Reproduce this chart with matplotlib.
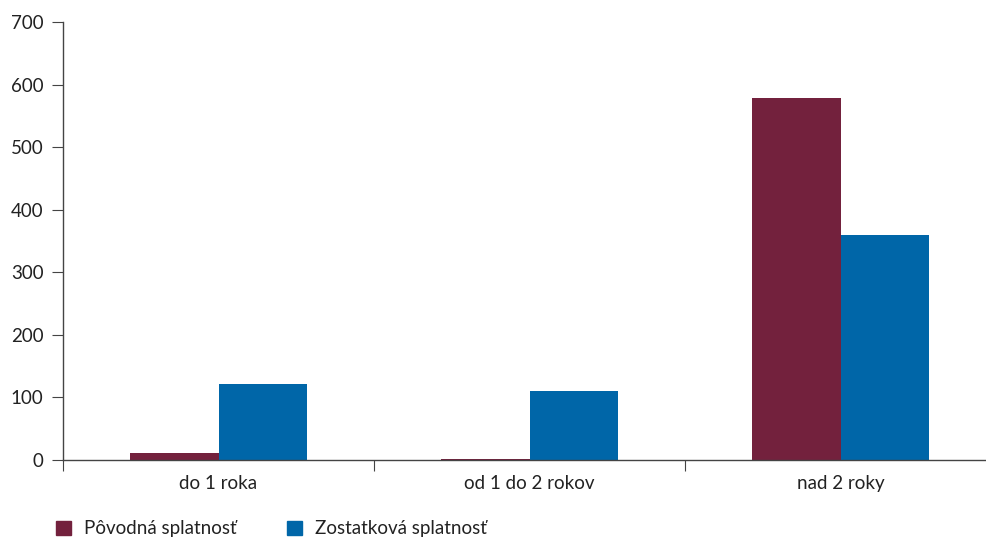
import matplotlib.pyplot as plt
import numpy as np
from matplotlib.patches import Patch

# data
categories = ["do 1 roka", "od 1 do 2 rokov", "nad 2 roky"]
povodna = [11, 2, 578]
zostatkova = [121, 110, 360]
series_names = ["Pôvodná splatnosť", "Zostatková splatnosť"]

plt.rcParams['font.family'] = ['Lato', 'DejaVu Sans']

fig = plt.figure(figsize=(9.86, 5.38), dpi=100)
ax = fig.add_axes([63 / 986, 78 / 538, 933 / 986, 438 / 538])

c1 = "#73213D"
c2 = "#0066A8"
x = np.arange(len(categories))
w = 0.285
ax.bar(x - w / 2, povodna, width=w, color=c1)
ax.bar(x + w / 2, zostatkova, width=w, color=c2)

ax.set_xlim(-0.5, len(categories) - 0.5)
ax.set_ylim(0, 700)
ax.set_yticks(range(0, 701, 100))

for s in ["top", "right"]:
    ax.spines[s].set_visible(False)
for s in ["left", "bottom"]:
    ax.spines[s].set_color("#444444")
    ax.spines[s].set_linewidth(1)

# x ticks on category boundaries, labels at centres
ax.set_xticks(np.arange(-0.5, len(categories), 1))
ax.set_xticklabels([])
ax.set_xticks(x, minor=True)
ax.set_xticklabels(categories, minor=True)
ax.tick_params(axis="x", which="major", length=8, color="#444444")
ax.tick_params(axis="x", which="minor", length=0, pad=11, labelsize=13.5, labelcolor="#222222")
ax.tick_params(axis="y", length=8, color="#444444", pad=6, labelsize=13.5, labelcolor="#222222")

handles = [Patch(color=c1), Patch(color=c2)]
fig.legend(handles, series_names, loc="lower left", bbox_to_anchor=(0.040, -0.03),
           ncol=2, frameon=False, fontsize=13.5, handlelength=0.8, handleheight=0.8,
           handletextpad=0.7, columnspacing=2.65, labelcolor="#222222")

plt.savefig("out.png", dpi=100)
